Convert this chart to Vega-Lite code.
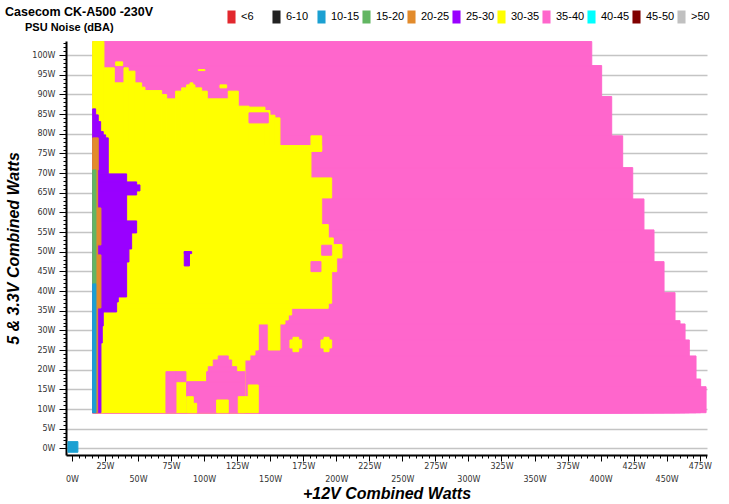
{
  "$schema": "https://vega.github.io/schema/vega-lite/v6.json",
  "width": 641,
  "height": 414,
  "autosize": {"type": "none"},
  "padding": {"left": 66, "top": 41, "right": 22, "bottom": 49},
  "background": "white",
  "config": {"view": {"stroke": null}},
  "title": {
    "text": "Casecom CK-A500 -230V",
    "anchor": "start",
    "frame": "group",
    "dx": -61,
    "dy": 16,
    "offset": 8,
    "font": "Liberation Sans",
    "fontSize": 12.5,
    "fontWeight": "bold",
    "color": "black"
  },
  "data": {
    "values": [
      {"x1": 15.66, "x2": 393.3, "y1": 9.06, "y2": 103.46, "noise": "35-40"},
      {"x1": 15.66, "x2": 400.8, "y1": 9.06, "y2": 97.35, "noise": "35-40"},
      {"x1": 15.66, "x2": 408.4, "y1": 9.06, "y2": 89.47, "noise": "35-40"},
      {"x1": 15.66, "x2": 416.7, "y1": 9.06, "y2": 79.47, "noise": "35-40"},
      {"x1": 15.66, "x2": 424.3, "y1": 9.06, "y2": 71.40, "noise": "35-40"},
      {"x1": 15.66, "x2": 432.8, "y1": 9.06, "y2": 63.43, "noise": "35-40"},
      {"x1": 15.66, "x2": 440.4, "y1": 9.06, "y2": 55.55, "noise": "35-40"},
      {"x1": 15.66, "x2": 448.0, "y1": 9.06, "y2": 47.48, "noise": "35-40"},
      {"x1": 15.66, "x2": 456.3, "y1": 9.06, "y2": 39.59, "noise": "35-40"},
      {"x1": 15.66, "x2": 460.1, "y1": 9.06, "y2": 32.47, "noise": "35-40"},
      {"x1": 15.66, "x2": 463.9, "y1": 9.06, "y2": 31.63, "noise": "35-40"},
      {"x1": 15.66, "x2": 467.1, "y1": 9.06, "y2": 27.56, "noise": "35-40"},
      {"x1": 15.66, "x2": 472.2, "y1": 9.06, "y2": 23.49, "noise": "35-40"},
      {"x1": 15.66, "x2": 475.7, "y1": 9.06, "y2": 17.63, "noise": "35-40"},
      {"x1": 15.66, "x2": 479.8, "y1": 9.06, "y2": 15.67, "noise": "35-40"},

      {"x1": 15.66, "x2": 24.21, "y1": 9.06, "y2": 103.46, "noise": "30-35"},
      {"x1": 24.21, "x2": 32.01, "y1": 75.6, "y2": 96.77, "noise": "30-35"},
      {"x1": 33.07, "x2": 38.36, "y1": 97.35, "y2": 98.29, "noise": "30-35"},
      {"x1": 32.01, "x2": 39.35, "y1": 75.6, "y2": 92.95, "noise": "30-35"},
      {"x1": 39.35, "x2": 42.60, "y1": 75.6, "y2": 96.77, "noise": "30-35"},
      {"x1": 42.60, "x2": 47.67, "y1": 75.6, "y2": 95.93, "noise": "30-35"},
      {"x1": 47.67, "x2": 52.74, "y1": 75.6, "y2": 92.95, "noise": "30-35"},
      {"x1": 52.74, "x2": 55.24, "y1": 75.6, "y2": 91.86, "noise": "30-35"},
      {"x1": 55.24, "x2": 67.88, "y1": 75.6, "y2": 90.99, "noise": "30-35"},
      {"x1": 67.88, "x2": 71.66, "y1": 75.6, "y2": 89.97, "noise": "30-35"},
      {"x1": 71.66, "x2": 78.47, "y1": 75.6, "y2": 88.88, "noise": "30-35"},
      {"x1": 78.47, "x2": 83.01, "y1": 75.6, "y2": 90.84, "noise": "30-35"},
      {"x1": 83.01, "x2": 86.79, "y1": 75.6, "y2": 91.68, "noise": "30-35"},
      {"x1": 86.79, "x2": 93.07, "y1": 75.6, "y2": 92.44, "noise": "30-35"},
      {"x1": 89.29, "x2": 91.56, "y1": 92.44, "y2": 92.95, "noise": "30-35"},
      {"x1": 93.07, "x2": 98.14, "y1": 75.6, "y2": 91.68, "noise": "30-35"},
      {"x1": 98.14, "x2": 102.38, "y1": 75.6, "y2": 90.84, "noise": "30-35"},
      {"x1": 102.38, "x2": 118.27, "y1": 75.6, "y2": 88.88, "noise": "30-35"},
      {"x1": 118.27, "x2": 125.84, "y1": 75.6, "y2": 90.84, "noise": "30-35"},
      {"x1": 111.99, "x2": 117.06, "y1": 91.68, "y2": 92.44, "noise": "30-35"},
      {"x1": 125.84, "x2": 133.94, "y1": 75.6, "y2": 87.02, "noise": "30-35"},
      {"x1": 133.94, "x2": 146.04, "y1": 75.6, "y2": 86.77, "noise": "30-35"},
      {"x1": 146.04, "x2": 149.83, "y1": 75.6, "y2": 85.90, "noise": "30-35"},
      {"x1": 149.83, "x2": 153.61, "y1": 75.6, "y2": 84.73, "noise": "30-35"},
      {"x1": 153.61, "x2": 157.39, "y1": 75.6, "y2": 84.04, "noise": "30-35"},
      {"x1": 95.57, "x2": 100.64, "y1": 96.08, "y2": 96.33, "noise": "30-35"},
      {"x1": 180.85, "x2": 188.95, "y1": 75.57, "y2": 79.47, "noise": "30-35"},
      {"x1": 15.66, "x2": 188.95, "y1": 75.57, "y2": 77.00, "noise": "30-35"},
      {"x1": 15.66, "x2": 180.85, "y1": 68.78, "y2": 75.57, "noise": "30-35"},
      {"x1": 15.66, "x2": 196.51, "y1": 63.69, "y2": 68.78, "noise": "30-35"},
      {"x1": 15.66, "x2": 188.95, "y1": 56.90, "y2": 63.69, "noise": "30-35"},
      {"x1": 15.66, "x2": 193.94, "y1": 53.51, "y2": 56.90, "noise": "30-35"},
      {"x1": 15.66, "x2": 197.73, "y1": 51.81, "y2": 53.51, "noise": "30-35"},
      {"x1": 15.66, "x2": 204.31, "y1": 48.42, "y2": 51.81, "noise": "30-35"},
      {"x1": 15.66, "x2": 200.30, "y1": 44.94, "y2": 48.42, "noise": "30-35"},
      {"x1": 15.66, "x2": 196.51, "y1": 36.90, "y2": 44.94, "noise": "30-35"},
      {"x1": 15.66, "x2": 193.94, "y1": 35.62, "y2": 36.90, "noise": "30-35"},
      {"x1": 15.66, "x2": 166.25, "y1": 33.92, "y2": 35.62, "noise": "30-35"},
      {"x1": 15.66, "x2": 163.68, "y1": 32.65, "y2": 33.92, "noise": "30-35"},
      {"x1": 15.66, "x2": 161.18, "y1": 31.63, "y2": 32.65, "noise": "30-35"},
      {"x1": 15.66, "x2": 140.97, "y1": 25.01, "y2": 31.63, "noise": "30-35"},
      {"x1": 148.54, "x2": 157.39, "y1": 25.01, "y2": 31.63, "noise": "30-35"},
      {"x1": 15.66, "x2": 138.48, "y1": 23.74, "y2": 25.01, "noise": "30-35"},
      {"x1": 15.66, "x2": 134.69, "y1": 22.47, "y2": 23.74, "noise": "30-35"},
      {"x1": 15.66, "x2": 130.91, "y1": 9.06, "y2": 22.47, "noise": "30-35"},

      {"x1": 133.94, "x2": 148.54, "y1": 82.77, "y2": 85.32, "noise": "35-40"},
      {"x1": 188.95, "x2": 196.51, "y1": 49.11, "y2": 51.65, "noise": "35-40"},
      {"x1": 180.85, "x2": 188.42, "y1": 44.94, "y2": 47.48, "noise": "35-40"},
      {"x1": 110.70, "x2": 118.27, "y1": 22.47, "y2": 23.49, "noise": "35-40"},
      {"x1": 106.92, "x2": 120.85, "y1": 20.76, "y2": 22.47, "noise": "35-40"},
      {"x1": 103.14, "x2": 124.63, "y1": 19.49, "y2": 20.76, "noise": "35-40"},
      {"x1": 101.93, "x2": 130.91, "y1": 16.95, "y2": 19.49, "noise": "35-40"},
      {"x1": 86.79, "x2": 130.91, "y1": 9.06, "y2": 16.95, "noise": "35-40"},
      {"x1": 71.13, "x2": 78.70, "y1": 9.06, "y2": 19.49, "noise": "35-40"},
      {"x1": 78.70, "x2": 86.26, "y1": 16.95, "y2": 19.49, "noise": "35-40"},

      {"x1": 86.79, "x2": 91.79, "y1": 9.06, "y2": 13.13, "noise": "30-35"},
      {"x1": 91.79, "x2": 94.36, "y1": 9.06, "y2": 11.45, "noise": "30-35"},
      {"x1": 109.49, "x2": 118.27, "y1": 9.06, "y2": 12.29, "noise": "30-35"},
      {"x1": 125.84, "x2": 140.97, "y1": 9.06, "y2": 13.13, "noise": "30-35"},
      {"x1": 133.41, "x2": 140.97, "y1": 13.13, "y2": 16.11, "noise": "30-35"},
      {"x1": 164.96, "x2": 173.81, "y1": 25.52, "y2": 27.56, "noise": "30-35"},
      {"x1": 167.23, "x2": 171.54, "y1": 24.58, "y2": 28.24, "noise": "30-35"},
      {"x1": 188.42, "x2": 196.51, "y1": 25.52, "y2": 27.56, "noise": "30-35"},
      {"x1": 190.69, "x2": 194.50, "y1": 24.58, "y2": 28.24, "noise": "30-35"},

      {"x1": 15.66, "x2": 17.93, "y1": 84.81, "y2": 86.34, "noise": "25-30"},
      {"x1": 15.66, "x2": 19.90, "y1": 83.10, "y2": 84.81, "noise": "25-30"},
      {"x1": 15.66, "x2": 21.72, "y1": 80.56, "y2": 83.10, "noise": "25-30"},
      {"x1": 15.66, "x2": 23.68, "y1": 79.72, "y2": 80.56, "noise": "25-30"},
      {"x1": 15.66, "x2": 25.50, "y1": 78.96, "y2": 79.72, "noise": "25-30"},
      {"x1": 15.66, "x2": 27.47, "y1": 69.80, "y2": 78.96, "noise": "25-30"},
      {"x1": 15.66, "x2": 41.39, "y1": 67.76, "y2": 69.80, "noise": "25-30"},
      {"x1": 15.66, "x2": 48.96, "y1": 67.00, "y2": 67.76, "noise": "25-30"},
      {"x1": 15.66, "x2": 51.46, "y1": 65.47, "y2": 67.00, "noise": "25-30"},
      {"x1": 15.66, "x2": 48.96, "y1": 64.45, "y2": 65.47, "noise": "25-30"},
      {"x1": 15.66, "x2": 41.39, "y1": 57.84, "y2": 64.45, "noise": "25-30"},
      {"x1": 15.66, "x2": 48.96, "y1": 54.78, "y2": 57.84, "noise": "25-30"},
      {"x1": 15.66, "x2": 45.17, "y1": 50.71, "y2": 54.78, "noise": "25-30"},
      {"x1": 15.66, "x2": 43.13, "y1": 47.40, "y2": 50.71, "noise": "25-30"},
      {"x1": 15.66, "x2": 41.39, "y1": 38.50, "y2": 47.40, "noise": "25-30"},
      {"x1": 15.66, "x2": 35.04, "y1": 37.23, "y2": 38.50, "noise": "25-30"},
      {"x1": 15.66, "x2": 33.82, "y1": 34.68, "y2": 37.23, "noise": "25-30"},
      {"x1": 15.66, "x2": 23.68, "y1": 31.12, "y2": 34.68, "noise": "25-30"},
      {"x1": 15.66, "x2": 22.93, "y1": 26.79, "y2": 31.12, "noise": "25-30"},
      {"x1": 15.66, "x2": 21.94, "y1": 9.06, "y2": 26.79, "noise": "25-30"},
      {"x1": 84.98, "x2": 88.91, "y1": 46.39, "y2": 50.03, "noise": "25-30"},
      {"x1": 84.98, "x2": 90.58, "y1": 49.52, "y2": 50.03, "noise": "25-30"},

      {"x1": 15.66, "x2": 19.90, "y1": 70.81, "y2": 78.96, "noise": "20-25"},
      {"x1": 18.16, "x2": 19.45, "y1": 61.14, "y2": 70.81, "noise": "20-25"},
      {"x1": 18.16, "x2": 21.94, "y1": 51.73, "y2": 61.14, "noise": "20-25"},
      {"x1": 18.16, "x2": 19.45, "y1": 49.19, "y2": 51.73, "noise": "20-25"},
      {"x1": 18.16, "x2": 21.94, "y1": 35.70, "y2": 49.19, "noise": "20-25"},
      {"x1": 18.16, "x2": 19.45, "y1": 9.06, "y2": 35.70, "noise": "20-25"},

      {"x1": 15.66, "x2": 18.16, "y1": 41.81, "y2": 70.81, "noise": "15-20"},
      {"x1": 15.66, "x2": 18.16, "y1": 9.06, "y2": 41.81, "noise": "10-15"},
      {"x1": -3.0, "x2": 4.5, "y1": -1.0, "y2": 1.7, "noise": "10-15"}
    ]
  },
  "mark": {"type": "rect", "strokeWidth": 1},
  "encoding": {
    "x": {
      "field": "x1",
      "type": "quantitative",
      "scale": {"domain": [-4.5, 480.5], "nice": false, "zero": false},
      "axis": {
        "values": [0,5,10,15,20,25,30,35,40,45,50,55,60,65,70,75,80,85,90,95,100,105,110,115,120,125,130,135,140,145,150,155,160,165,170,175,180,185,190,195,200,205,210,215,220,225,230,235,240,245,250,255,260,265,270,275,280,285,290,295,300,305,310,315,320,325,330,335,340,345,350,355,360,365,370,375,380,385,390,395,400,405,410,415,420,425,430,435,440,445,450,455,460,465,470,475,480],
        "labelExpr": "datum.value % 25 === 0 ? datum.value + 'W' : ''",
        "labelPadding": {"condition": {"test": "datum.value % 50 === 0", "value": 14}, "value": 1},
        "tickSize": {"condition": {"test": "datum.value % 25 === 0", "value": 6}, "value": 3},
        "labelOverlap": false,
        "labelFlush": false,
        "labelFont": "DejaVu Sans",
        "labelFontSize": 8,
        "labelColor": "#333333",
        "grid": false,
        "domainColor": "black",
        "domainWidth": 2,
        "tickColor": "black",
        "tickWidth": 1,
        "title": "+12V Combined Watts",
        "titleFont": "Liberation Sans",
        "titleFontSize": 16,
        "titleFontWeight": "bold",
        "titleFontStyle": "italic",
        "titleColor": "black",
        "titlePadding": 2
      }
    },
    "x2": {"field": "x2"},
    "y": {
      "field": "y1",
      "type": "quantitative",
      "scale": {"domain": [-1.7, 103.6], "nice": false, "zero": false},
      "axis": {
        "values": [0,1,2,3,4,5,6,7,8,9,10,11,12,13,14,15,16,17,18,19,20,21,22,23,24,25,26,27,28,29,30,31,32,33,34,35,36,37,38,39,40,41,42,43,44,45,46,47,48,49,50,51,52,53,54,55,56,57,58,59,60,61,62,63,64,65,66,67,68,69,70,71,72,73,74,75,76,77,78,79,80,81,82,83,84,85,86,87,88,89,90,91,92,93,94,95,96,97,98,99,100,101,102,103],
        "labelExpr": "datum.value % 5 === 0 ? datum.value + 'W' : ''",
        "tickSize": {"condition": {"test": "datum.value % 5 === 0", "value": 7}, "value": 3},
        "labelPadding": 4,
        "labelOverlap": false,
        "labelFont": "DejaVu Sans",
        "labelFontSize": 8,
        "labelColor": "#333333",
        "grid": true,
        "gridColor": "#c4c4c4",
        "gridWidth": 1.5,
        "gridOpacity": {"condition": {"test": "datum.value % 5 === 0", "value": 1}, "value": 0},
        "domainColor": "black",
        "domainWidth": 2,
        "tickColor": "black",
        "tickWidth": 1,
        "title": "5 & 3.3V Combined Watts",
        "titleFont": "Liberation Sans",
        "titleFontSize": 16,
        "titleFontWeight": "bold",
        "titleFontStyle": "italic",
        "titleColor": "black",
        "titlePadding": 10
      }
    },
    "y2": {"field": "y2"},
    "color": {
      "field": "noise",
      "type": "nominal",
      "scale": {
        "domain": ["<6", "6-10", "10-15", "15-20", "20-25", "25-30", "30-35", "35-40", "40-45", "45-50", ">50"],
        "range": ["#e2282e", "#222222", "#1ba0d2", "#62b662", "#e28b2c", "#9900ff", "#ffff00", "#ff66cc", "#00ffff", "#800000", "#c0c0c0"]
      },
      "legend": {
        "orient": "none",
        "legendX": -41,
        "legendY": -30.5,
        "direction": "horizontal",
        "columns": 11,
        "title": ["", "PSU Noise (dBA)"],
        "titleOrient": "left",
        "titleAnchor": "start",
        "titleBaseline": "top",
        "titleLineHeight": 11,
        "titlePadding": 111,
        "titleFont": "Liberation Sans",
        "titleFontSize": 11,
        "titleFontWeight": "bold",
        "titleColor": "black",
        "gridAlign": "all",
        "columnPadding": -1.9,
        "padding": 0,
        "symbolType": "M-0.62,-1L0.62,-1L0.62,1L-0.62,1Z",
        "symbolSize": 169,
        "symbolStrokeWidth": 0,
        "symbolOpacity": 1,
        "labelOffset": 3,
        "labelFont": "Liberation Sans",
        "labelFontSize": 11,
        "labelColor": "black"
      }
    },
    "stroke": {
      "field": "noise",
      "type": "nominal",
      "scale": {
        "domain": ["<6", "6-10", "10-15", "15-20", "20-25", "25-30", "30-35", "35-40", "40-45", "45-50", ">50"],
        "range": ["#e2282e", "#222222", "#1ba0d2", "#62b662", "#e28b2c", "#9900ff", "#ffff00", "#ff66cc", "#00ffff", "#800000", "#c0c0c0"]
      },
      "legend": null
    }
  }
}
